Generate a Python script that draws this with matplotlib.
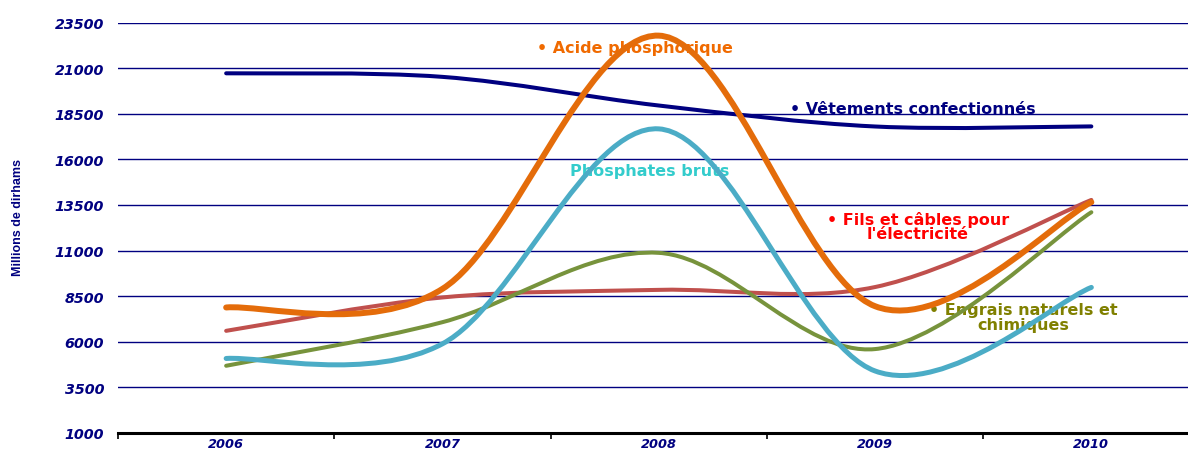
import matplotlib
matplotlib.use("Agg")
import matplotlib.pyplot as plt
from matplotlib.path import Path
from matplotlib.patches import PathPatch
from matplotlib.font_manager import FontProperties
import numpy as np

years = ["2006", "2007", "2008", "2009", "2010"]
vetements = [20715, 20520, 18950, 17800, 17805]
acide = [7880, 8900, 22780, 7950, 13650]
phosphates = [5085, 5890, 17670, 4400, 8980]
fils = [6600, 8430, 8845, 9000, 13775]
engrais = [4685, 7075, 10875, 5600, 13100]

yticks = [1000, 3500, 6000, 8500, 11000, 13500, 16000, 18500, 21000, 23500]

NAVY = "#000080"

series = [
    (vetements, "#000080", 2.9),
    (fils, "#C0504D", 2.9),
    (engrais, "#77933C", 2.9),
    (acide, "#E46C0A", 4.3),
    (phosphates, "#4BACC6", 3.6),
]

fig = plt.figure(figsize=(11.88, 4.52), dpi=100)
ax = fig.add_axes([118 / 1188, 18 / 452, 1081.5 / 1188, 410.5 / 452])

def smooth_path(vals):
    xs = list(range(len(vals)))
    pts = list(zip(xs, vals))
    verts = [pts[0]]
    codes = [Path.MOVETO]
    n = len(pts)
    for i in range(n - 1):
        p0 = np.array(pts[i], float)
        p3 = np.array(pts[i + 1], float)
        pm = np.array(pts[i - 1] if i > 0 else pts[i], float)
        pp = np.array(pts[i + 2] if i + 2 < n else pts[i + 1], float)
        c1 = p0 + (p3 - pm) / 6.0
        c2 = p3 - (pp - p0) / 6.0
        verts += [tuple(c1), tuple(c2), tuple(p3)]
        codes += [Path.CURVE4] * 3
    return Path(verts, codes)

for z, (vals, col, lw) in enumerate(series):
    patch = PathPatch(smooth_path(vals), fill=False, edgecolor=col, lw=lw,
                      capstyle="round", joinstyle="round", zorder=5 + z)
    ax.add_patch(patch)

ax.set_xlim(-0.5, 4.5)
ax.set_ylim(1000, 23500)
ax.set_yticks(yticks)
ax.set_yticklabels([str(t) for t in yticks])
ax.set_xticks(range(len(years)))
ax.set_xticklabels(years)
ax.set_xticks(np.arange(-0.5, 5.0, 1.0), minor=True)

for y in yticks[1:]:
    ax.axhline(y, color=NAVY, lw=1.0, zorder=1)

for s in ["left", "top", "right"]:
    ax.spines[s].set_visible(False)
ax.spines["bottom"].set_linewidth(2.2)
ax.spines["bottom"].set_color("black")
ax.spines["bottom"].set_zorder(20)

ax.tick_params(axis="y", length=0, pad=10)
ax.tick_params(axis="x", which="major", length=0, pad=3)
ax.tick_params(axis="x", which="minor", length=4, width=1.2, direction="out", color="black")

ytickfp = FontProperties(family="DejaVu Sans", weight="bold", style="oblique", size=10.3)
xtickfp = FontProperties(family="DejaVu Sans", weight="bold", style="oblique", size=9.3)
for lab in ax.get_yticklabels():
    lab.set_fontproperties(ytickfp)
    lab.set_color(NAVY)
for lab in ax.get_xticklabels():
    lab.set_fontproperties(xtickfp)
    lab.set_color(NAVY)

fig.text(18 / 1188, 1 - 218 / 452, "Millions de dirhams", rotation=90,
         ha="center", va="center", color=NAVY, fontsize=9, fontweight="bold",
         family=["Liberation Sans Narrow", "Liberation Sans"])

lab_font = dict(fontsize=11.5, fontweight="bold", family="DejaVu Sans", zorder=3)
ax.text(1.437, 22157, "• Acide phosphorique", color="#F06A00", ha="left", va="center", **lab_font)
ax.text(1.59, 15362, "Phosphates bruts", color="#33CCCC", ha="left", va="center", **lab_font)
ax.text(2.607, 18760, "• Vêtements confectionnés", color=NAVY, ha="left", va="center", **lab_font)
ax.text(3.199, 12350, "• Fils et câbles pour\nl'électricité", color="#FF0000", ha="center",
        va="center", linespacing=0.95, **lab_font)
ax.text(3.685, 7360, "• Engrais naturels et\nchimiques", color="#808000", ha="center",
        va="center", linespacing=0.95, **lab_font)

fig.savefig("out.png", dpi=100, facecolor="white")
